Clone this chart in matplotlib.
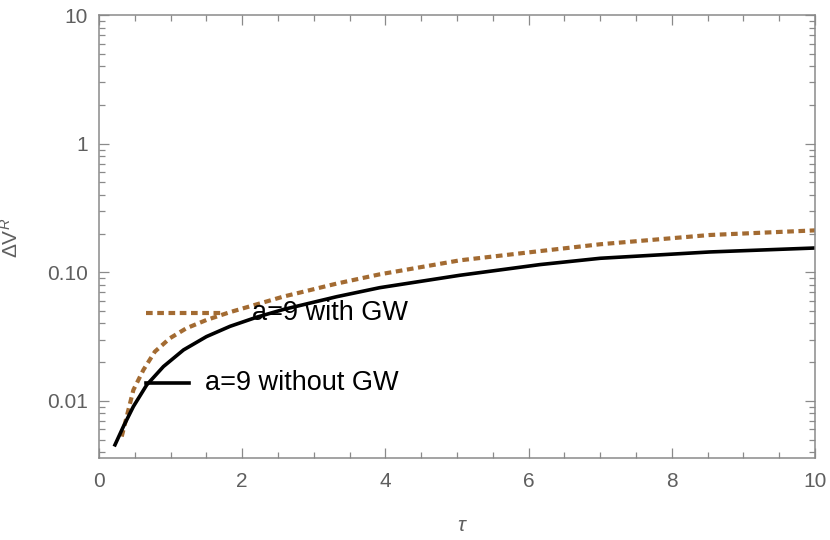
import numpy as np
import matplotlib.pyplot as plt
import matplotlib.ticker as ticker

plt.rcParams['font.family'] = ['Liberation Sans', 'DejaVu Sans']
plt.rcParams['mathtext.fontset'] = 'custom'
plt.rcParams['mathtext.rm'] = 'Liberation Sans'
plt.rcParams['mathtext.it'] = 'Liberation Sans:italic'

# curves (tau, Delta V^R)
tau_nogw = [0.223, 0.34, 0.48, 0.666, 0.90, 1.18, 1.50, 1.83, 2.2, 2.57,
            3.32, 3.92, 5.04, 6.16, 7.0, 8.53, 10.0]
dv_nogw = [0.00455, 0.00631, 0.00904, 0.0133, 0.0185, 0.0249, 0.0316,
           0.0380, 0.0447, 0.0513, 0.0646, 0.0759, 0.0948, 0.1148, 0.1285,
           0.1439, 0.1545]

tau_gw = [0.317, 0.387, 0.48, 0.62, 0.78, 0.99, 1.22, 1.50, 1.83, 2.57,
          3.32, 3.92, 5.04, 6.16, 7.0, 8.53, 10.0]
dv_gw = [0.00528, 0.00755, 0.01216, 0.01742, 0.02415, 0.0307, 0.0367,
         0.04256, 0.049, 0.0646, 0.0817, 0.0964, 0.1239, 0.1462, 0.1652,
         0.195, 0.2118]

labels = ['a=9 with GW', 'a=9 without GW']
ytick_vals = [0.01, 0.1, 1, 10]
ytick_labels = ['0.01', '0.10', '1', '10']

brown = '#A36B32'
gray = '#8a8a8a'
txt_gray = '#5f5f5f'

fig = plt.figure(figsize=(8.3, 5.4), dpi=100)
ax = fig.add_axes([0.1193, 0.152, 0.8627, 0.820])

ax.plot(tau_gw, dv_gw, color=brown, lw=3.0, dashes=(1.6, 1.1),
        dash_capstyle='butt', solid_joinstyle='round')
ax.plot(tau_nogw, dv_nogw, color='black', lw=2.6, solid_joinstyle='round')

ax.set_yscale('log')
ax.set_xlim(0, 10)
ax.set_ylim(0.0036, 10)

ax.xaxis.set_major_locator(ticker.MultipleLocator(2))
ax.xaxis.set_minor_locator(ticker.MultipleLocator(0.5))
ax.yaxis.set_major_locator(ticker.FixedLocator(ytick_vals))
ax.yaxis.set_major_formatter(ticker.FixedFormatter(ytick_labels))
ax.yaxis.set_minor_locator(ticker.LogLocator(base=10, subs=np.arange(2, 10)))
ax.yaxis.set_minor_formatter(ticker.NullFormatter())

ax.tick_params(which='both', direction='in', top=True, right=True,
               color=gray, labelcolor=txt_gray, labelsize=15, width=0.9)
ax.tick_params(which='major', length=7, pad=8)
ax.tick_params(which='minor', length=4)
ax.tick_params(axis='x', which='major', pad=10)

for s in ax.spines.values():
    s.set_color(gray)
    s.set_linewidth(1.1)

ax.set_xlabel(r'$\tau$', fontsize=15, color=txt_gray)
ax.xaxis.set_label_coords(0.508, -0.132)

# y label placed as rotated figure text so it sits fully inside the canvas
fig.text(11 / 830, 1 - 238 / 540, r'$\mathrm{\Delta V}^{R}$', fontsize=15,
         color=txt_gray, rotation=90, ha='center', va='center')

# in-plot legend
ax.plot([0.0656, 0.172], [0.3273, 0.3273], transform=ax.transAxes,
        color=brown, lw=3.0, dashes=(1.6, 1.1), dash_capstyle='butt')
ax.text(0.2137, 0.3273, labels[0], transform=ax.transAxes, fontsize=19.5,
        va='center', ha='left', color='black')
ax.plot([0.0656, 0.1257], [0.1693, 0.1693], transform=ax.transAxes,
        color='black', lw=2.6)
ax.text(0.148, 0.1693, labels[1], transform=ax.transAxes, fontsize=19.5,
        va='center', ha='left', color='black')

fig.savefig('out.png', dpi=100)
